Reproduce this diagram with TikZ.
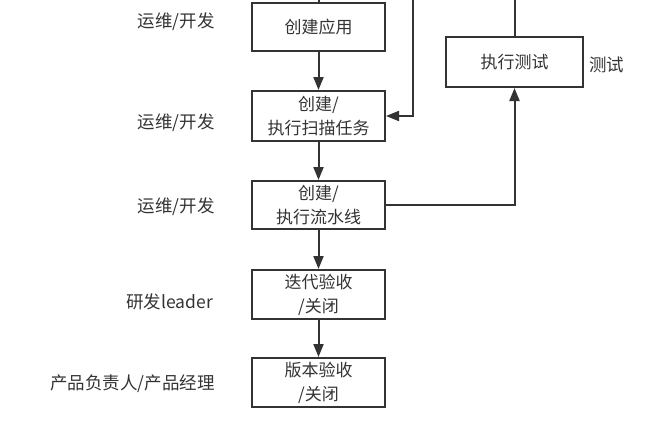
\documentclass[tikz,border=0pt]{standalone}
\usepackage{fontspec}
\setmainfont{Noto Sans CJK SC}
\usetikzlibrary{arrows.meta}
\definecolor{ink}{HTML}{333333}
\tikzset{
  box/.style={draw=ink, line width=2pt, minimum width=133pt, minimum height=49pt, inner sep=0pt, align=center, text=ink, font=\fontsize{17pt}{24pt}\selectfont},
  role/.style={anchor=east, text=ink, inner sep=0pt, font=\fontsize{17.5pt}{20pt}\selectfont},
  conn/.style={draw=ink, line width=2pt},
  arr/.style={conn, -{Triangle[length=13pt,width=10pt]}}
}
\begin{document}
\begin{tikzpicture}[x=1pt,y=-1pt]
\useasboundingbox (0,0) rectangle (647,423);
\node[box, minimum height=48pt] (b1) at (318.5,27) {创建应用};
\node[box, minimum height=50pt] (b2) at (318.5,116) {创建/\\执行扫描任务};
\node[box, minimum height=48pt] (b3) at (318.5,205) {创建/\\执行流水线};
\node[box] (b4) at (318.5,294.5) {迭代验收\\/关闭};
\node[box] (b5) at (318.5,382.5) {版本验收\\/关闭};
\node[box, minimum width=137pt, minimum height=50pt] (t) at (514.5,62) {执行测试};
\coordinate (top1) at (318.5,-2);
\coordinate (top2) at (413,-2);
\coordinate (top3) at (514.5,-2);
\node[role] (r1) at (215,22) {运维/开发};
\node[role] (r2) at (215,123) {运维/开发};
\node[role] (r3) at (215,207) {运维/开发};
\node[role] (r4) at (213,302) {研发leader};
\node[role] (r5) at (215,384) {产品负责人/产品经理};
\node[role, anchor=west] (r6) at (589,65) {测试};
\draw[conn] (b1.north) -- (top1);
\draw[conn] (t.north) -- (top3);
\draw[arr] (b1) -- (b2);
\draw[arr] (b2) -- (b3);
\draw[arr] (b3) -- (b4);
\draw[arr] (b4) -- (b5);
\draw[arr] (top2) |- (b2.east);
\draw[arr] (b3.east) -| (t.south);
\end{tikzpicture}
\end{document}
